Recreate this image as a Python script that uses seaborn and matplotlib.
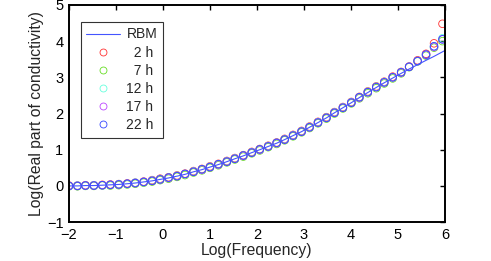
import matplotlib
matplotlib.use("Agg")
import matplotlib.pyplot as plt
from matplotlib.lines import Line2D
import seaborn as sns

# log frequency of the measured points
freq = [-2.00, -1.82, -1.65, -1.47, -1.29, -1.12, -0.94, -0.76, -0.59, -0.41,
        -0.23, -0.06, 0.12, 0.30, 0.47, 0.65, 0.83, 1.00, 1.18, 1.36,
        1.53, 1.71, 1.89, 2.06, 2.24, 2.42, 2.59, 2.77, 2.95, 3.12,
        3.30, 3.48, 3.65, 3.83, 4.01, 4.18, 4.36, 4.54, 4.71, 4.89,
        5.07, 5.24, 5.42, 5.60, 5.77, 5.95]

# RBM model curve
rbm_x = [-2.00, -1.82, -1.65, -1.47, -1.29, -1.12, -0.94, -0.76, -0.59, -0.41,
         -0.23, -0.06, 0.12, 0.30, 0.47, 0.65, 0.83, 1.00, 1.18, 1.36,
         1.53, 1.71, 1.89, 2.06, 2.24, 2.42, 2.59, 2.77, 2.95, 3.12,
         3.30, 3.48, 3.65, 3.83, 4.01, 4.18, 4.36, 4.54, 4.71, 4.89,
         5.07, 5.24, 5.42, 5.60, 5.77, 6.00]
rbm_y = [0.00, 0.00, 0.01, 0.01, 0.02, 0.03, 0.04, 0.06, 0.08, 0.11,
         0.14, 0.18, 0.22, 0.27, 0.32, 0.39, 0.45, 0.52, 0.59, 0.67,
         0.75, 0.83, 0.92, 1.00, 1.09, 1.18, 1.28, 1.39, 1.50, 1.62,
         1.75, 1.88, 2.02, 2.16, 2.30, 2.44, 2.58, 2.72, 2.85, 2.98,
         3.11, 3.23, 3.35, 3.47, 3.58, 3.74]

h2 = [0.01, 0.01, 0.02, 0.02, 0.03, 0.04, 0.05, 0.07, 0.09, 0.12,
      0.16, 0.20, 0.24, 0.29, 0.34, 0.41, 0.47, 0.54, 0.61, 0.69,
      0.77, 0.85, 0.94, 1.02, 1.11, 1.20, 1.30, 1.41, 1.52, 1.64,
      1.77, 1.90, 2.04, 2.18, 2.32, 2.46, 2.61, 2.75, 2.88, 3.02,
      3.15, 3.30, 3.47, 3.65, 3.94, 4.48]
h7 = [-0.01, -0.01, 0.00, 0.00, 0.01, 0.01, 0.02, 0.04, 0.06, 0.09,
      0.12, 0.16, 0.20, 0.25, 0.30, 0.37, 0.43, 0.50, 0.57, 0.65,
      0.73, 0.81, 0.90, 0.98, 1.07, 1.16, 1.26, 1.37, 1.48, 1.60,
      1.73, 1.86, 2.00, 2.14, 2.28, 2.42, 2.56, 2.70, 2.83, 2.97,
      3.11, 3.28, 3.44, 3.60, 3.82, 4.00]
h12 = [0.00, 0.01, 0.01, 0.02, 0.02, 0.03, 0.05, 0.06, 0.09, 0.11,
       0.15, 0.19, 0.23, 0.28, 0.33, 0.40, 0.46, 0.53, 0.60, 0.68,
       0.76, 0.84, 0.93, 1.01, 1.10, 1.19, 1.29, 1.40, 1.51, 1.63,
       1.76, 1.89, 2.03, 2.17, 2.31, 2.45, 2.60, 2.74, 2.87, 3.00,
       3.14, 3.29, 3.45, 3.62, 3.85, 4.08]
h17 = [0.00, 0.00, 0.01, 0.01, 0.02, 0.03, 0.04, 0.06, 0.08, 0.11,
       0.14, 0.18, 0.22, 0.27, 0.33, 0.39, 0.45, 0.52, 0.59, 0.67,
       0.75, 0.83, 0.92, 1.00, 1.09, 1.18, 1.28, 1.39, 1.50, 1.62,
       1.75, 1.88, 2.02, 2.16, 2.30, 2.44, 2.59, 2.73, 2.86, 3.00,
       3.13, 3.29, 3.45, 3.62, 3.84, 4.05]
h22 = [0.00, 0.00, 0.01, 0.01, 0.02, 0.03, 0.04, 0.06, 0.08, 0.11,
       0.14, 0.18, 0.23, 0.27, 0.33, 0.39, 0.46, 0.52, 0.60, 0.67,
       0.75, 0.84, 0.92, 1.01, 1.09, 1.19, 1.28, 1.39, 1.50, 1.62,
       1.75, 1.88, 2.02, 2.16, 2.30, 2.45, 2.59, 2.73, 2.86, 3.00,
       3.14, 3.29, 3.45, 3.63, 3.86, 4.05]

labels = ["2 h", "7 h", "12 h", "17 h", "22 h"]
colors = ["#ff3030", "#66dd22", "#66ffdd", "#bb44ff", "#3344ff"]
series = [h2, h7, h12, h17, h22]

sns.set_style("white")
plt.rcParams["font.family"] = ["Liberation Sans", "DejaVu Sans"]

fig = plt.figure(figsize=(4.91, 2.61), dpi=100)
ax = fig.add_axes([0.1405, 0.149, 0.7655, 0.832])

sns.lineplot(x=rbm_x, y=rbm_y, ax=ax, color="#4455ff", linewidth=0.8,
             sort=False, estimator=None)
for ys, c in zip(series, colors):
    sns.scatterplot(x=freq, y=ys, ax=ax, marker="o", s=30,
                    facecolor="none", edgecolor=c, linewidth=0.6)

ax.set_xlim(-2, 6)
ax.set_ylim(-1, 5)
ax.set_xticks(range(-2, 7))
ax.set_yticks(range(-1, 6))
ax.tick_params(direction="in", length=3.5, width=1, top=True, right=True,
               labelsize=10.5, colors="black", pad=4)
for sp in ax.spines.values():
    sp.set_visible(True)
    sp.set_color("black")
    sp.set_linewidth(1.4)
ax.set_xlabel("Log(Frequency)", fontsize=11.3, labelpad=1)
ax.set_ylabel("Log(Real part of conductivity)", fontsize=11.3, labelpad=2)

handles = [Line2D([], [], color="#4455ff", linewidth=0.8)]
for c in colors:
    handles.append(Line2D([], [], linestyle="", marker="o", markersize=5,
                          markerfacecolor="none", markeredgecolor=c,
                          markeredgewidth=0.6))
names = ["RBM"] + ["  " + labels[0], "  " + labels[1]] + labels[2:]
leg = ax.legend(handles, names, loc="upper left",
                bbox_to_anchor=(0.031, 0.922), borderaxespad=0,
                frameon=True, fancybox=False, edgecolor="black",
                fontsize=10, handlelength=2.4, labelspacing=0.3,
                borderpad=0.4, handletextpad=0.5)
leg.get_frame().set_linewidth(0.8)

fig.savefig("out.png", dpi=100)
